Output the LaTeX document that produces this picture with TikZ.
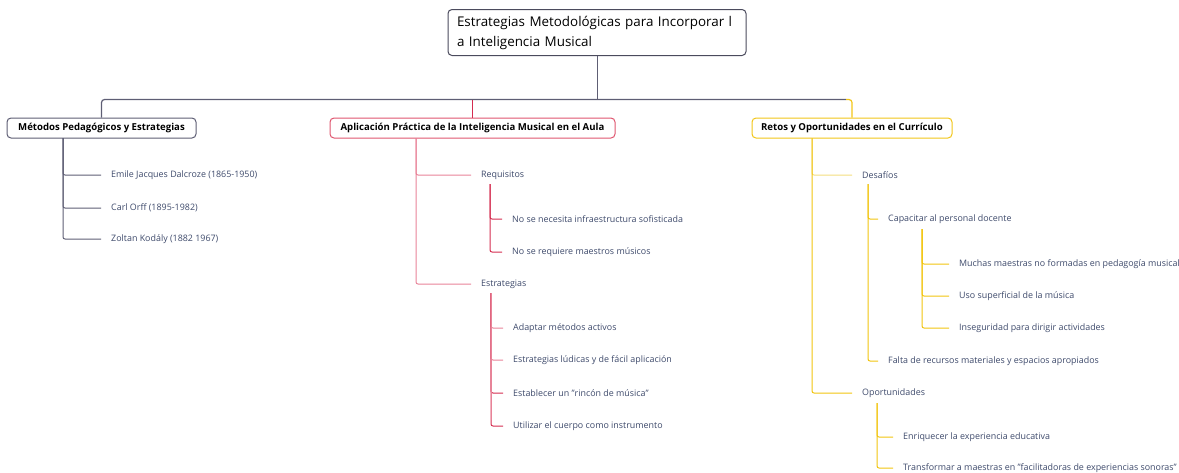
\documentclass[tikz,border=0pt]{standalone}
\usepackage{fontspec}
\setmainfont{Open Sans}
\usetikzlibrary{calc}
\definecolor{leaftxt}{HTML}{3E4A6B}
\definecolor{gline}{HTML}{5E5E74}
\definecolor{rbox}{HTML}{E0566F}
\definecolor{rlight}{HTML}{E88398}
\definecolor{rdeep}{HTML}{D42C50}
\definecolor{ybox}{HTML}{F2C619}
\definecolor{ylight}{HTML}{F3DD7E}
\definecolor{ydeep}{HTML}{F1C40F}
\tikzset{
  rootbox/.style={draw=gline!80!black, line width=1pt, rounded corners=4pt, fill=white, text width=280pt, inner xsep=9pt, inner ysep=4pt, minimum height=46pt, align=left, text=black, font=\fontsize{13.4}{20}\selectfont},
  topbox/.style={line width=1pt, rounded corners=4pt, fill=white, minimum height=20pt, inner ysep=0pt, text=black, font=\fontsize{9.6}{11}\selectfont\bfseries},
  leaf/.style={anchor=west, inner xsep=10pt, inner ysep=0pt, text=leaftxt, font=\fontsize{8.9}{10}\selectfont},
  conn/.style={line width=1pt, rounded corners=2pt},
}
\begin{document}
\begin{tikzpicture}[x=1pt,y=-1pt]
\useasboundingbox (0,0) rectangle (1179,472);
% root
\node[rootbox] (root) at (597,32.5) {Estrategias Metodológicas para Incorporar l\\a Inteligencia Musical};
% level 1
\node[topbox, draw=gline, minimum width=189pt] (met) at (101.5,128) {Métodos Pedagógicos y Estrategias};
\node[topbox, draw=rbox, minimum width=285pt] (apl) at (472.5,128) {Aplicación Práctica de la Inteligencia Musical en el Aula};
\node[topbox, draw=ybox, minimum width=200pt] (ret) at (852,128) {Retos y Oportunidades en el Currículo};
% bus
\coordinate (bus) at (597,99.5);
\coordinate (busR) at (846,99.5);
\draw[gline, line width=0.9pt] (root.south) -- (bus);
\draw[gline, line width=1.2pt, rounded corners=3pt] (busR) -- (bus -| met.north) -- (met.north);
\draw[ybox, line width=1.2pt, rounded corners=3pt] (busR) -| (ret.north);
\draw[rdeep, line width=1.2pt] (bus -| apl.north) -- (apl.north);
% Metodos
\node[leaf] (m1) at (101,175) {Emile Jacques Dalcroze (1865-1950)};
\node[leaf] (m2) at (101,208) {Carl Orff (1895-1982)};
\node[leaf] (m3) at (101,239) {Zoltan Kodály (1882 1967)};
\coordinate (mb) at (63,138);
\foreach \c in {m1,m2,m3} \draw[conn, gline] (mb) |- (\c.west);
% Aplicacion
\node[leaf] (a1) at (471,175) {Requisitos};
\node[leaf] (a2) at (471,284) {Estrategias};
\coordinate (ab) at (416,138);
\foreach \c in {a1,a2} \draw[conn, rlight] (ab) |- (\c.west);
\node[leaf] (a11) at (502,219) {No se necesita infraestructura sofisticada};
\node[leaf] (a12) at (502,252) {No se requiere maestros músicos};
\coordinate (a1b) at (490,184);
\foreach \c in {a11,a12} \draw[conn, rdeep] (a1b) |- (\c.west);
\node[leaf] (a21) at (503,328) {Adaptar métodos activos};
\node[leaf] (a22) at (503,360) {Estrategias lúdicas y de fácil aplicación};
\node[leaf] (a23) at (503,393) {Establecer un \symbol{34}rincón de música\symbol{34}};
\node[leaf] (a24) at (503,426) {Utilizar el cuerpo como instrumento};
\coordinate (a2b) at (491,293);
\foreach \c in {a21,a22} \draw[conn, rlight] (a2b) |- (\c.west);
\foreach \c in {a23,a24} \draw[conn, rdeep] (a2b) |- (\c.west);
\draw[rlight, line width=1pt] (a2b) -- (491,420);
% Retos
\node[leaf] (r1) at (852,175) {Desafíos};
\node[leaf] (r2) at (852,393) {Oportunidades};
\coordinate (rb) at (812,138);
\draw[conn, ylight] (rb) |- (r1.west);
\draw[conn, ydeep] (rb) |- (r2.west);
\node[leaf] (r11) at (878,219) {Capacitar al personal docente};
\node[leaf] (r12) at (878,361) {Falta de recursos materiales y espacios apropiados};
\coordinate (r1b) at (868,184);
\foreach \c in {r11,r12} \draw[conn, ydeep] (r1b) |- (\c.west);
\node[leaf] (r111) at (949,264) {Muchas maestras no formadas en pedagogía musical};
\node[leaf] (r112) at (949,296) {Uso superficial de la música};
\node[leaf] (r113) at (949,328) {Inseguridad para dirigir actividades};
\coordinate (r11b) at (922,229);
\foreach \c in {r111,r112,r113} \draw[conn, ydeep] (r11b) |- (\c.west);
\node[leaf] (r21) at (893,437) {Enriquecer la experiencia educativa};
\node[leaf] (r22) at (893,468) {Transformar a maestras en \symbol{34}facilitadoras de experiencias sonoras\symbol{34}};
\coordinate (r2b) at (877,403);
\foreach \c in {r21,r22} \draw[conn, ydeep] (r2b) |- (\c.west);
\end{tikzpicture}
\end{document}
